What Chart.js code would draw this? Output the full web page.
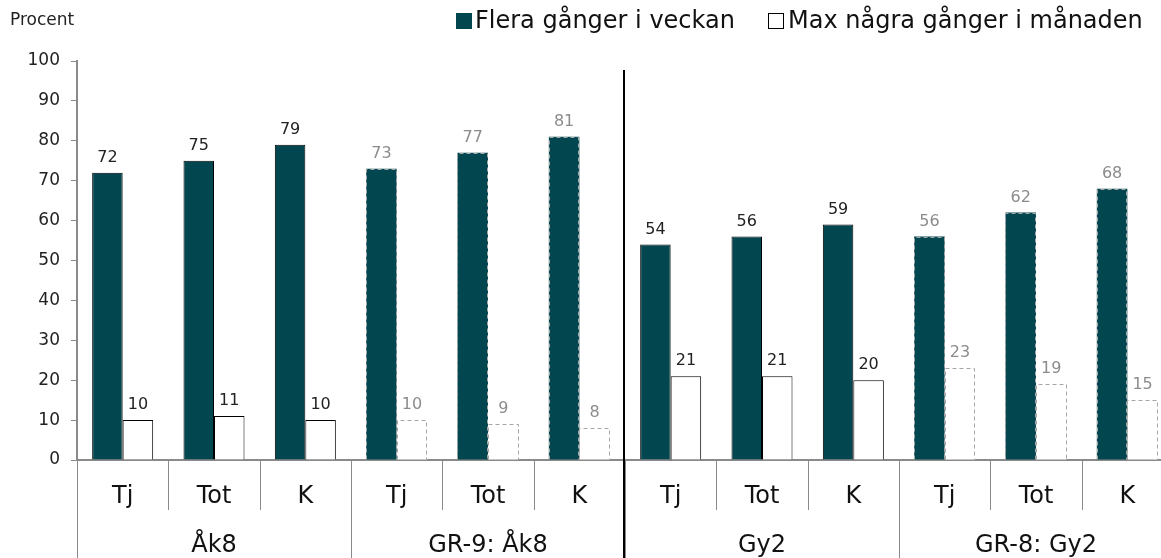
<!DOCTYPE html>
<html>
<head>
<meta charset="utf-8">
<script src="https://cdn.jsdelivr.net/npm/chart.js@4.4.1/dist/chart.umd.min.js"></script>
<style>
    html, body { margin: 0; padding: 0; background: #fff; overflow: hidden; }
    #wrap { position: relative; width: 1180px; height: 558px; }
</style>
</head>
<body>
<div id="wrap"><canvas id="chart" width="1180" height="558"></canvas></div>
<script>
    // Data
    const groupLabels = ["Åk8", "GR-9: Åk8", "Gy2", "GR-8: Gy2"];
    const categories = ["Tj", "Tot", "K", "Tj", "Tot", "K", "Tj", "Tot", "K", "Tj", "Tot", "K"];
    const severalPerWeek = [72, 75, 79, 73, 77, 81, 54, 56, 59, 56, 62, 68];
    const maxPerMonth = [10, 11, 10, 10, 9, 8, 21, 21, 20, 23, 19, 15];
    const seriesNames = ["Flera gånger i veckan", "Max några gånger i månaden"];
    const yTicks = [0, 10, 20, 30, 40, 50, 60, 70, 80, 90, 100];
    const comparisonGroups = [1, 3]; // drawn grey and dashed

    const DARK = "#02464f";
    const GREY = "#8c8c8c";
    const DASH = "#a6a6a6";
    const AXIS = "#8a8a8a";
    const FONT = "'DejaVu Sans', Verdana, sans-serif";
    const perGroup = 3;

    const isComparison = (i) => comparisonGroups.includes(Math.floor(i / perGroup));

    // Labels, dashed outlines, separators and legend
    const decorations = {
        id: "decorations",
        afterDatasetsDraw(chart) {
            const { ctx, chartArea } = chart;
            const x = chart.scales.x;
            const h = chart.height;
            const step = x.getPixelForValue(1) - x.getPixelForValue(0);
            const edge = (i) => x.getPixelForValue(i) - step / 2;

            ctx.save();

            // dashed outlines for comparison bars
            chart.data.datasets.forEach((ds, di) => {
                chart.getDatasetMeta(di).data.forEach((bar, i) => {
                    if (!isComparison(i)) return;
                    const l = Math.round(bar.x - bar.width / 2) + 0.5;
                    const r = Math.round(bar.x + bar.width / 2) - 0.5;
                    const t = Math.round(bar.y) + 0.5;
                    ctx.strokeStyle = DASH;
                    ctx.lineWidth = 1;
                    ctx.setLineDash([4, 3]);
                    ctx.beginPath();
                    ctx.moveTo(l, bar.base);
                    ctx.lineTo(l, t);
                    ctx.lineTo(r, t);
                    ctx.lineTo(r, bar.base);
                    ctx.stroke();
                });
            });
            ctx.setLineDash([]);

            // value labels
            ctx.font = "16px " + FONT;
            ctx.textAlign = "center";
            ctx.textBaseline = "alphabetic";
            chart.data.datasets.forEach((ds, di) => {
                chart.getDatasetMeta(di).data.forEach((bar, i) => {
                    ctx.fillStyle = isComparison(i) ? GREY : "#222";
                    ctx.fillText(ds.data[i], bar.x, bar.y - 11);
                });
            });

            // separators under the axis
            ctx.strokeStyle = AXIS;
            ctx.lineWidth = 1;
            for (let i = 0; i <= categories.length; i++) {
                const px = Math.round(edge(i)) + 0.5;
                const full = i % perGroup === 0;
                ctx.beginPath();
                ctx.moveTo(px, chartArea.bottom);
                ctx.lineTo(px, full ? h : chartArea.bottom + 50);
                ctx.stroke();
            }

            // category and group labels
            ctx.fillStyle = "#111";
            ctx.font = "24px " + FONT;
            ctx.textBaseline = "middle";
            categories.forEach((c, i) => {
                ctx.fillText(c, x.getPixelForValue(i), chartArea.bottom + 37);
            });
            groupLabels.forEach((g, gi) => {
                const cx = (edge(gi * perGroup) + edge(gi * perGroup + perGroup)) / 2;
                ctx.fillText(g, cx, chartArea.bottom + 86);
            });

            // divider between school years
            const mid = Math.round(edge(6)) - 1;
            ctx.fillStyle = "#000";
            ctx.fillRect(mid - 1, chartArea.top + 9, 2, h - chartArea.top - 9);

            // axis title
            ctx.textAlign = "left";
            ctx.font = "17px " + FONT;
            ctx.fillStyle = "#222";
            ctx.fillText("Procent", 10, 21);

            // legend
            ctx.font = "24px " + FONT;
            ctx.fillStyle = DARK;
            ctx.fillRect(456, 13, 16, 16);
            ctx.fillStyle = "#111";
            ctx.fillText(seriesNames[0], 475, 22);
            ctx.fillStyle = "#fff";
            ctx.fillRect(768, 13, 16, 16);
            ctx.strokeStyle = "#000";
            ctx.strokeRect(768.5, 13.5, 15, 15);
            ctx.fillStyle = "#111";
            ctx.fillText(seriesNames[1], 788, 22);

            ctx.restore();
        },
    };

    new Chart(document.getElementById("chart"), {
        type: "bar",
        data: {
            labels: categories,
            datasets: [
                {
                    label: seriesNames[0],
                    data: severalPerWeek,
                    backgroundColor: DARK,
                    borderColor: "#000",
                    borderWidth: (c) => (isComparison(c.dataIndex) ? 0 : 1),
                },
                {
                    label: seriesNames[1],
                    data: maxPerMonth,
                    backgroundColor: "#fff",
                    borderColor: "#000",
                    borderWidth: (c) => (isComparison(c.dataIndex) ? 0 : 1),
                },
            ],
        },
        options: {
            responsive: false,
            animation: false,
            devicePixelRatio: 1,
            layout: { padding: { top: 61, right: 7, left: 0, bottom: 0 } },
            datasets: {
                bar: { categoryPercentage: 0.668, barPercentage: 1 },
            },
            plugins: {
                legend: { display: false },
                tooltip: { enabled: false },
            },
            scales: {
                x: {
                    grid: { display: false },
                    border: { display: true, color: AXIS, width: 2 },
                    ticks: { display: false },
                    afterFit: (s) => { s.height = 98; },
                },
                y: {
                    min: 0,
                    max: 100,
                    afterBuildTicks: (s) => { s.ticks = yTicks.map((v) => ({ value: v })); },
                    grid: { drawOnChartArea: false, drawTicks: true, tickLength: 6, color: AXIS },
                    border: { display: true, color: AXIS, width: 2 },
                    ticks: {
                        padding: 11,
                        color: "#222",
                        font: { family: FONT, size: 17 },
                    },
                    afterFit: (s) => { s.width = 77; },
                },
            },
        },
        plugins: [decorations],
    });
</script>
</body>
</html>
